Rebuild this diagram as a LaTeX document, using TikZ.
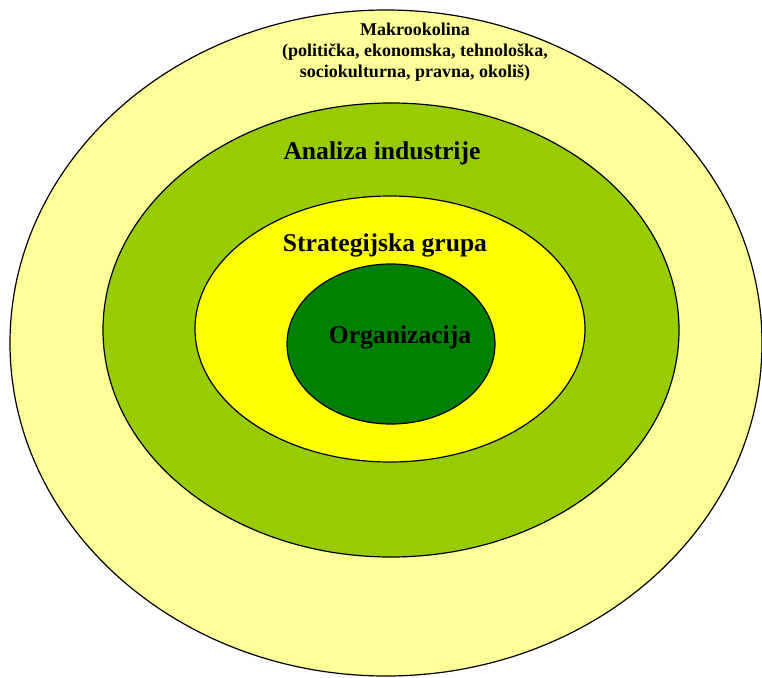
\documentclass[tikz,border=0pt]{standalone}
\usepackage{fontspec}
\setmainfont{Liberation Serif}
\usepackage{tikz}

\definecolor{macroyellow}{HTML}{FFFF99}
\definecolor{industrygreen}{HTML}{99CC00}
\definecolor{groupyellow}{HTML}{FFFF00}
\definecolor{orggreen}{HTML}{008000}

\tikzset{
	ring/.style={draw=black, line width=0.9pt},
	label text/.style={font=\bfseries\fontsize{19.2}{22}\selectfont, align=center},
	small text/.style={font=\bfseries\fontsize{13.5}{15.8}\selectfont, align=center}
}

\begin{document}
\begin{tikzpicture}[x=0.75pt, y=-0.75pt]
	\useasboundingbox (0,0) rectangle (762,677);
	\fill[white] (0,0) rectangle (762,677);

	\draw[ring, fill=macroyellow] (386,343) ellipse [x radius=376, y radius=333];
	\draw[ring, fill=industrygreen] (391,330) ellipse [x radius=288, y radius=227];
	\draw[ring, fill=groupyellow] (390,329) ellipse [x radius=195, y radius=133];
	\draw[ring, fill=orggreen] (391,344) ellipse [x radius=104, y radius=80];

	\node[small text] (macro) at (415,52) {Makrookolina\\(politička, ekonomska, tehnološka,\\sociokulturna, pravna, okoliš)};
	\node[label text] (industry) at (382,153) {Analiza industrije};
	\node[label text] (group) at (385,245) {Strategijska grupa};
	\node[label text] (org) at (400,337) {Organizacija};
\end{tikzpicture}
\end{document}
